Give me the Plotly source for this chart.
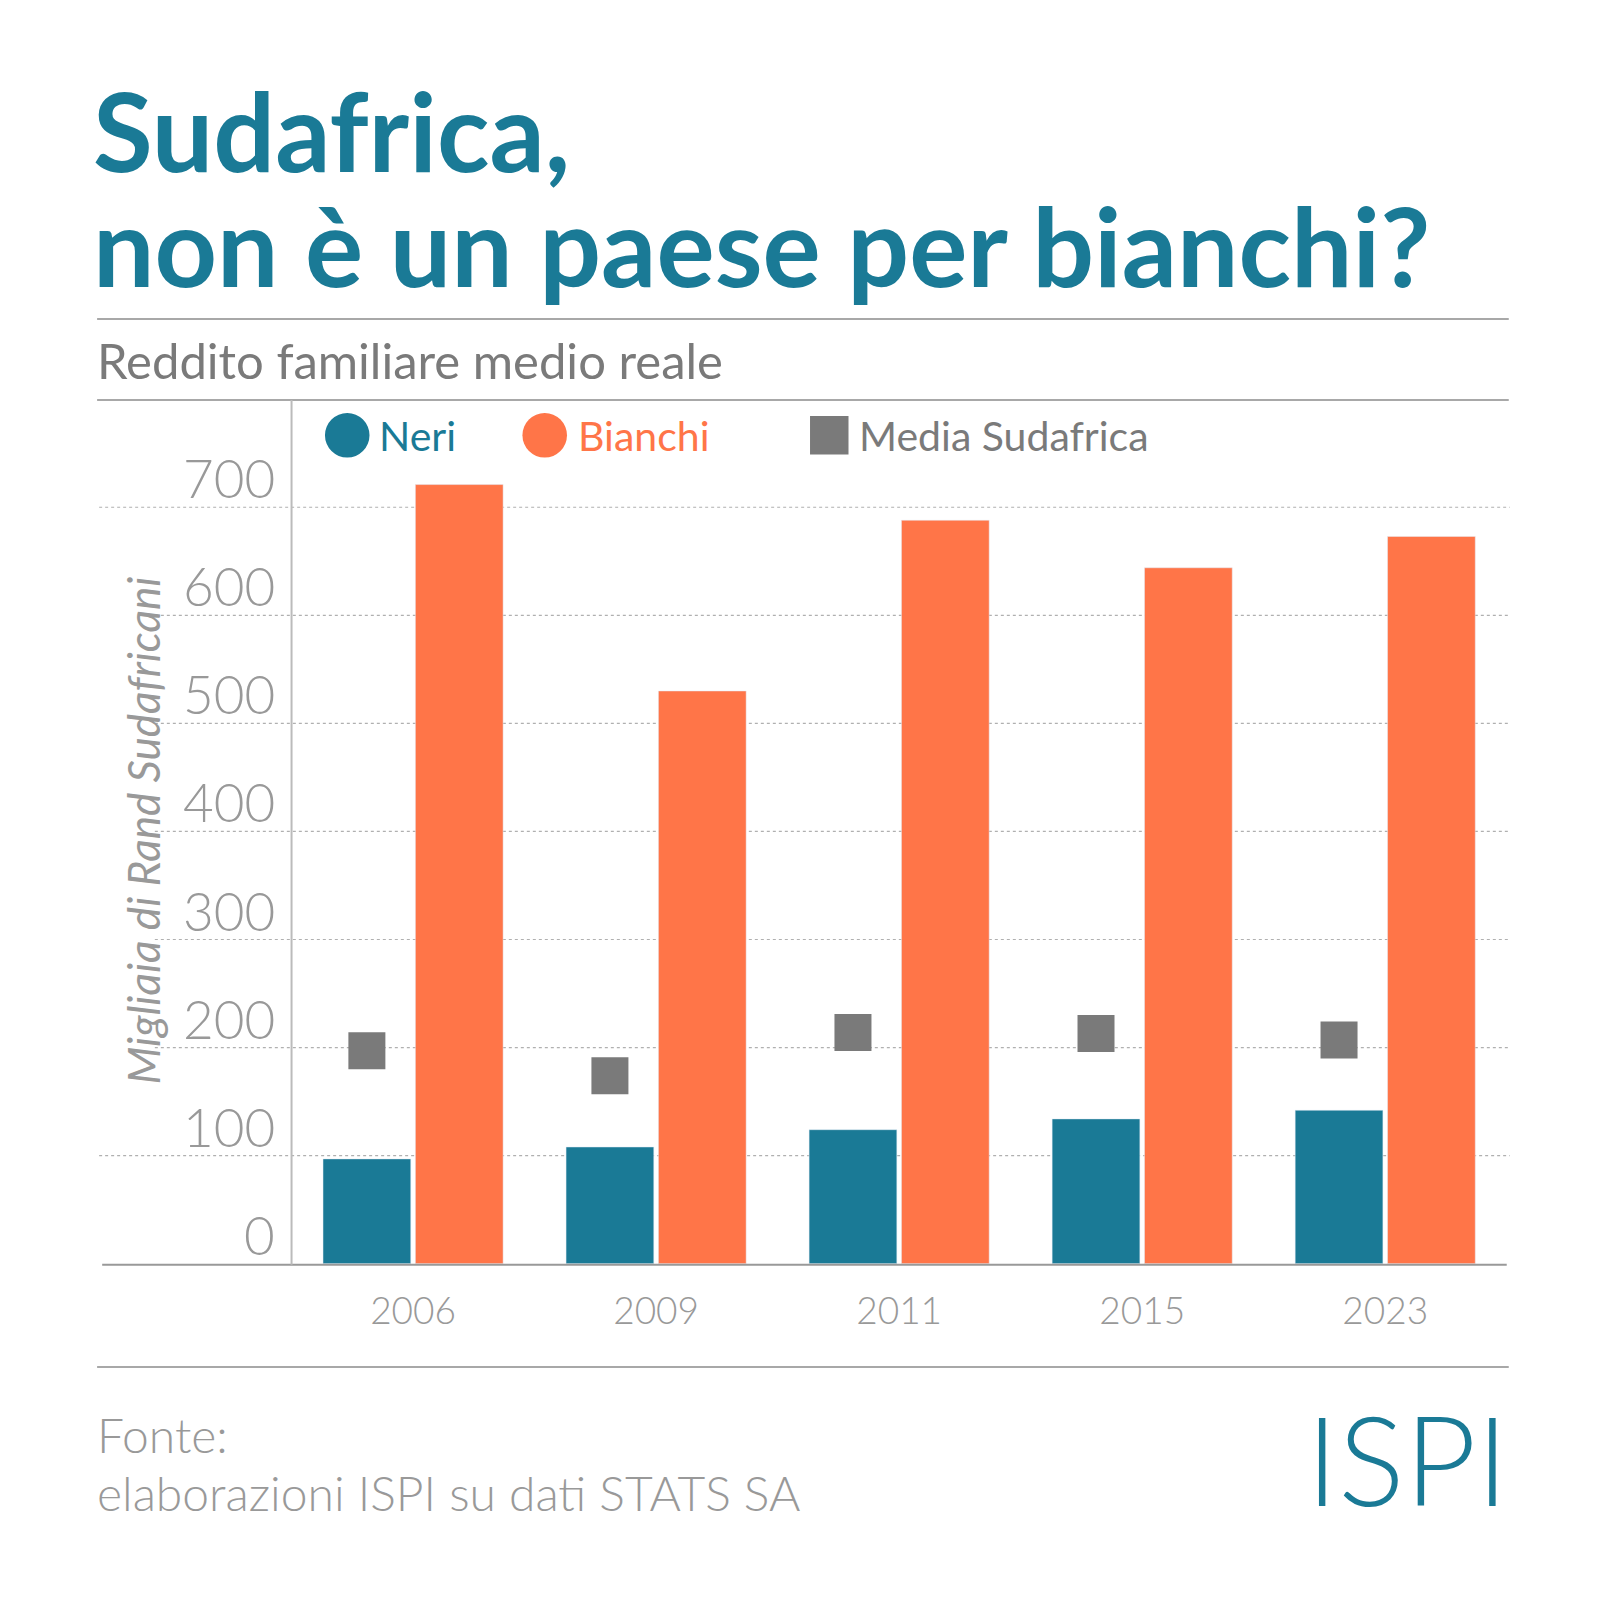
import plotly.graph_objects as go

years = ["2006", "2009", "2011", "2015", "2023"]
neri = [97, 108, 124, 134, 142]
bianchi = [721, 530, 688, 644, 673]
media = [197, 174, 214, 213, 207]
yticks = [0, 100, 200, 300, 400, 500, 600, 700]

TEAL = "#1a7a96"; ORANGE = "#ff7548"; GREY = "#7a7a7a"; TXT = "#8a8a8a"
W = H = 1600
S = 1580
def px(x): return x / S
def py(y): return 1 - y / S
def fs(s): return round(s * W / S)

fig = go.Figure()
fig.add_bar(x=years, y=neri, marker_color=TEAL, offsetgroup="n", showlegend=False, name="Neri")
fig.add_bar(x=years, y=bianchi, marker_color=ORANGE, offsetgroup="b", showlegend=False, name="Bianchi")
fig.add_scatter(x=years, y=media, mode="markers", offsetgroup="n", showlegend=False,
                marker=dict(symbol="square", size=37, color=GREY), name="Media Sudafrica")

fig.update_layout(
    width=W, height=H, margin=dict(l=0, r=0, t=0, b=0),
    plot_bgcolor="white", paper_bgcolor="white",
    barmode="group", scattermode="group", bargap=0.24, bargroupgap=0.05,
    font=dict(family="Lato", color=TXT),
    xaxis=dict(domain=[px(280), px(1480)], showline=False, ticks="",
               tickfont=dict(size=fs(37), color="#999", weight=300), showgrid=False,
               ticklabelstandoff=22),
    yaxis=dict(domain=[py(1240), py(429)], range=[0, 760], tickvals=yticks,
               showgrid=False, zeroline=False, showticklabels=False),
)
shapes = []
for v in yticks[1:]:
    x0 = 90 if v in (100, 700) else 145
    shapes.append(dict(type="line", xref="paper", yref="y", x0=px(x0), x1=px(1483), y0=v, y1=v,
                       line=dict(color="#b0b0b0", width=1.2, dash="dot"), layer="below"))
for y in (307, 387, 1342):
    shapes.append(dict(type="line", xref="paper", yref="paper", x0=px(88), x1=px(1482),
                       y0=py(y), y1=py(y), line=dict(color="#a8a8a8", width=2)))
shapes.append(dict(type="line", xref="paper", yref="paper", x0=px(93), x1=px(1480),
                   y0=py(1241), y1=py(1241), line=dict(color="#999", width=2)))
shapes.append(dict(type="line", xref="paper", yref="paper", x0=px(280), x1=px(280),
                   y0=py(387), y1=py(1241), line=dict(color="#bbb", width=2)))
shapes.append(dict(type="circle", xref="paper", yref="paper", x0=px(313), x1=px(357),
                   y0=py(444), y1=py(400), fillcolor=TEAL, line_width=0))
shapes.append(dict(type="circle", xref="paper", yref="paper", x0=px(508), x1=px(552),
                   y0=py(444), y1=py(400), fillcolor=ORANGE, line_width=0))
shapes.append(dict(type="rect", xref="paper", yref="paper", x0=px(792), x1=px(830),
                   y0=py(441), y1=py(403), fillcolor=GREY, line_width=0))
fig.update_layout(shapes=shapes)

ann = []
for v in yticks:
    ann.append(dict(xref="paper", yref="y", x=px(266), y=v, text=str(v), showarrow=False,
                    xanchor="right", yanchor="bottom", yshift=-4,
                    font=dict(size=fs(52), color="#999", weight=300)))
ann += [
    dict(x=px(82), y=py(120), text="<b>Sudafrica,</b>", font=dict(size=fs(108), color=TEAL)),
    dict(x=px(82), y=py(234), text="<b>non è un paese per bianchi?</b>", font=dict(size=fs(108), color=TEAL)),
    dict(x=px(86), y=py(348), text="Reddito familiare medio reale", font=dict(size=fs(48), color=GREY)),
    dict(x=px(364), y=py(422), text="Neri", font=dict(size=fs(40), color=TEAL)),
    dict(x=px(561), y=py(422), text="Bianchi", font=dict(size=fs(40), color=ORANGE)),
    dict(x=px(838), y=py(422), text="Media Sudafrica", font=dict(size=fs(40), color=GREY)),
    dict(x=px(86), y=py(1409), text="Fonte:", font=dict(size=fs(47), color="#999", weight=300)),
    dict(x=px(86), y=py(1466), text="elaborazioni ISPI su dati STATS SA", font=dict(size=fs(47), color="#999", weight=300)),
    dict(x=px(1484), y=py(1432), text="ISPI", xanchor="right", font=dict(size=fs(122), color=TEAL, weight=300)),
]
for a in ann[len(yticks):]:
    a.update(xref="paper", yref="paper", showarrow=False, yanchor="middle")
    a.setdefault("xanchor", "left")
ann.append(dict(xref="paper", yref="paper", x=px(106), y=py(812), text="<i>Migliaia di Rand Sudafricani</i>",
                textangle=-90, showarrow=False, font=dict(size=fs(43), color="#999")))
fig.update_layout(annotations=ann)
fig.write_html("out.html")
